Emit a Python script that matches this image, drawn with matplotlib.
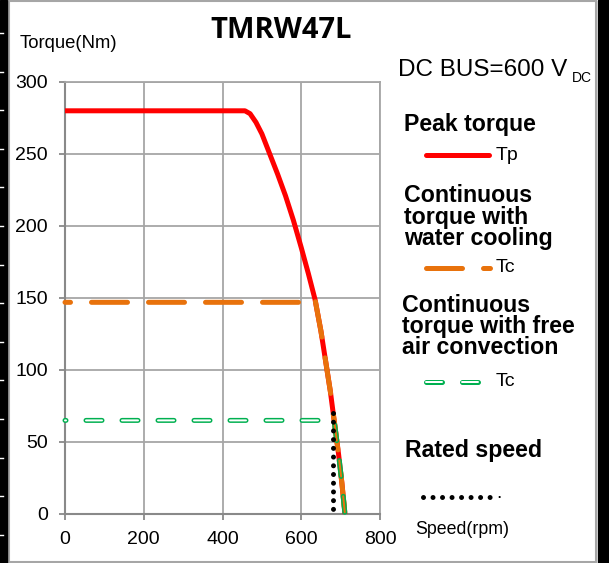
import numpy as np
import matplotlib
matplotlib.use("Agg")
import matplotlib.pyplot as plt
from matplotlib.lines import Line2D
from matplotlib.patches import Rectangle

plt.rcParams['font.family'] = ['Liberation Sans', 'DejaVu Sans']
plt.rcParams['lines.scale_dashes'] = False

# data
peak_speed = [0, 457, 470, 485, 500, 520, 540, 560, 580, 600, 618, 635, 650, 662, 674, 684, 695, 703, 711]
peak_torque = [280, 280, 278, 272, 264, 250, 236, 221, 204, 185, 167, 149, 127, 106, 85, 64, 41, 22, 0]
water_speed = [0, 633, 635, 650, 662, 674, 684, 695, 703, 711]
water_torque = [147, 147, 149, 127, 106, 85, 64, 41, 22, 0]
air_speed = [0, 681, 684, 695, 703, 711]
air_torque = [65, 65, 64, 41, 22, 0]
rated_speed = [680, 680]
rated_torque = [70, 0]

xticks = [0, 200, 400, 600, 800]
yticks = [0, 50, 100, 150, 200, 250, 300]

RED = "#FF0000"
ORANGE = "#E8720C"
GREEN = "#00B050"
GRID = "#A6A6A6"
AXIS = "#898989"

W, H = 609, 563
PT = 0.72  # points per pixel at dpi 100


def fx(x):
    return x / W


def fy(y):
    return 1 - y / H


fig = plt.figure(figsize=(W / 100, H / 100), dpi=100)
ax = fig.add_axes([fx(65), 49 / H, 315 / W, 432 / H])

ax.set_xlim(0, 800)
ax.set_ylim(0, 300)
ax.set_xticks(xticks)
ax.set_yticks(yticks)
ax.grid(True, color=GRID, lw=1.3)
ax.set_axisbelow(True)
for s in ["left", "bottom"]:
    ax.spines[s].set_color(AXIS)
    ax.spines[s].set_linewidth(1.5)
for s in ["top", "right"]:
    ax.spines[s].set_color(GRID)
    ax.spines[s].set_linewidth(1.3)
ax.tick_params(direction="out", length=6 * PT, width=1.3, color=AXIS,
               labelsize=14, pad=8, labelcolor="black")

# peak torque
ax.plot(peak_speed, peak_torque, color=RED, lw=5 * PT, solid_capstyle="butt",
        solid_joinstyle="round", clip_on=False, zorder=3)

# continuous torque, water cooling
dash_o = (30.5 * PT, (36 * PT, 21 * PT))
ax.plot(water_speed, water_torque, color=ORANGE, lw=5 * PT, linestyle=dash_o,
        dash_capstyle="round", dash_joinstyle="round", clip_on=False, zorder=4)

# continuous torque, free air convection (hollow dashes)
dash_g = (15 * PT, (16 * PT, 20 * PT))
ax.plot(air_speed, air_torque, color=GREEN, lw=5 * PT, linestyle=dash_g,
        dash_capstyle="round", dash_joinstyle="round", clip_on=False, zorder=5)
inner_w, = ax.plot(air_speed, air_torque, color="white", lw=2 * PT, linestyle=dash_g,
                   dash_capstyle="round", zorder=6)
inner_w.set_clip_path(Rectangle((-20, -10), 699, 320, transform=ax.transData))
inner_o, = ax.plot(air_speed, air_torque, color=ORANGE, lw=2 * PT, linestyle=dash_g,
                   dash_capstyle="round", zorder=6)
inner_o.set_clip_path(Rectangle((679, -10), 200, 320, transform=ax.transData))

# rated speed
dots = (0, (0.01, 8.7 * PT))
ax.plot(rated_speed, rated_torque, color="black", lw=5 * PT, linestyle=dots,
        dash_capstyle="round", clip_on=False, zorder=7)

# texts
fig.text(fx(281), fy(31), "TMRW47L", ha="center", va="center", fontsize=21,
         fontweight="bold", family=["Open Sans", "DejaVu Sans"])
fig.text(fx(20), fy(43), "Torque(Nm)", ha="left", va="center", fontsize=13.3)
fig.text(fx(415), fy(530), "Speed(rpm)", ha="left", va="center", fontsize=12.8)
fig.text(fx(398), fy(70), "DC BUS=600 V", ha="left", va="center", fontsize=17.5)
fig.text(fx(572), fy(78), "DC", ha="left", va="center", fontsize=10)

head = dict(ha="left", va="center", fontsize=16.7, fontweight="bold")
fig.text(fx(404), fy(124), "Peak torque", **head)
fig.text(fx(404), fy(196), "Continuous", **head)
fig.text(fx(404), fy(217), "torque with", **head)
fig.text(fx(404), fy(238), "water cooling", **head)
fig.text(fx(402), fy(305), "Continuous", **head)
fig.text(fx(402), fy(326), "torque with free", **head)
fig.text(fx(402), fy(347), "air convection", **head)
fig.text(fx(405), fy(450), "Rated speed", **head)

lab = dict(ha="left", va="center", fontsize=14)
fig.text(fx(496), fy(155), "Tp", **lab)
fig.text(fx(496), fy(268), "Tc", **lab)
fig.text(fx(496), fy(382), "Tc", **lab)
fig.text(fx(496), fy(494), ".", **lab)

# legend samples
fig.add_artist(Line2D([fx(425.5), fx(488.5)], [fy(155), fy(155)], color=RED, lw=5 * PT,
                      solid_capstyle="round"))
fig.add_artist(Line2D([fx(425.5), fx(490)], [fy(268), fy(268)], color=ORANGE, lw=5 * PT,
                      linestyle=(0, (36 * PT, 21 * PT)), dash_capstyle="round"))
fig.add_artist(Line2D([fx(425.5), fx(491)], [fy(382), fy(382)], color=GREEN, lw=5 * PT,
                      linestyle=(0, (16 * PT, 20 * PT)), dash_capstyle="round"))
fig.add_artist(Line2D([fx(425.5), fx(491)], [fy(382), fy(382)], color="white", lw=2 * PT,
                      linestyle=(0, (16 * PT, 20 * PT)), dash_capstyle="round"))
fig.add_artist(Line2D([fx(423), fx(491)], [fy(497), fy(497)], color="black", lw=5 * PT,
                      linestyle=(0, (0.01, 9.5 * PT)), dash_capstyle="round"))

# outer frame and black bands
fig.add_artist(Rectangle((fx(9), fy(562)), (596 - 9) / W, 561 / H, transform=fig.transFigure,
                         fill=False, edgecolor="#A6A6A6", lw=1.5))
fig.add_artist(Rectangle((0, 0), 7 / W, 1, transform=fig.transFigure, color="black"))
fig.add_artist(Rectangle((598 / W, 0), 11 / W, 1, transform=fig.transFigure, color="black"))
for yy in np.arange(33, 563, 38.6):
    fig.add_artist(Line2D([0, fx(3)], [fy(yy), fy(yy)], color="white", lw=1))

fig.savefig("out.png", dpi=100)
